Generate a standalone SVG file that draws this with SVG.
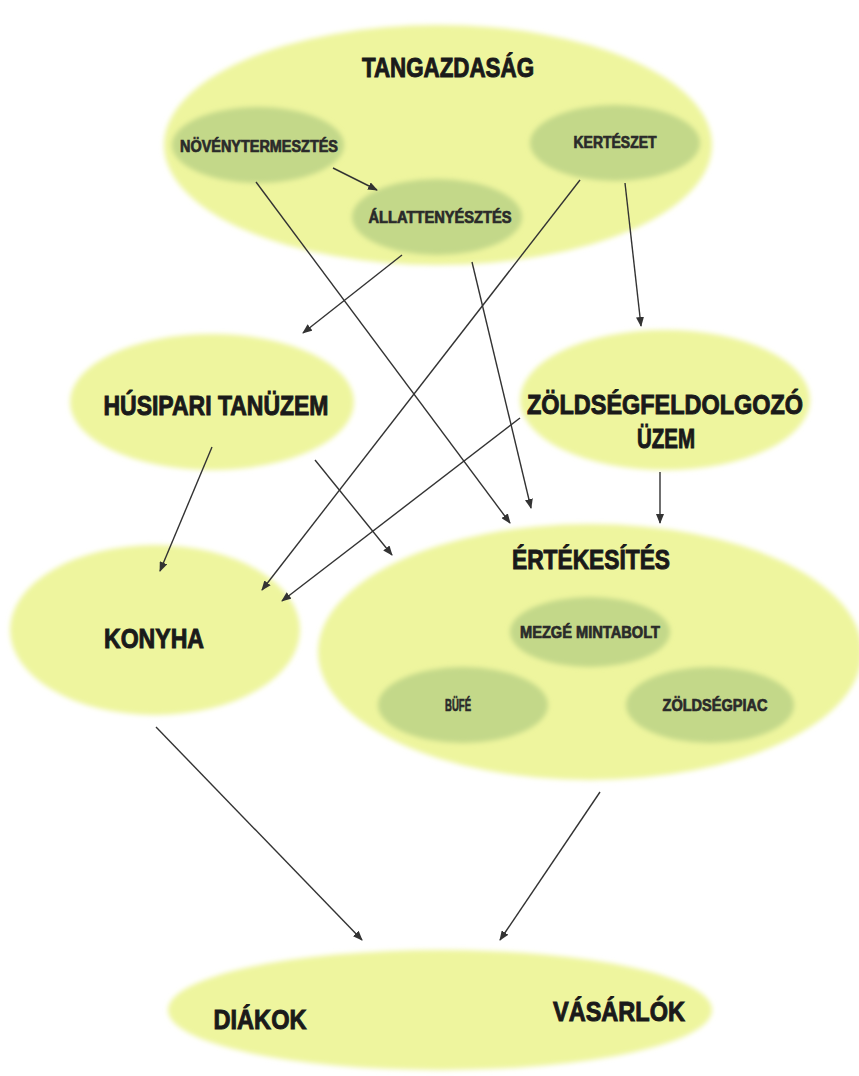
<svg xmlns="http://www.w3.org/2000/svg" width="859" height="1076" viewBox="0 0 859 1076">
<defs>
<filter id="soft" x="-10%" y="-10%" width="120%" height="120%"><feGaussianBlur stdDeviation="2.5"/></filter>
<marker id="arr" markerWidth="10" markerHeight="8" refX="9" refY="4" orient="auto" markerUnits="userSpaceOnUse"><path d="M0,0 L10,4 L0,8 Z" fill="#333"/></marker>
<style>
.outer{fill:#eef59e;filter:url(#soft)}
.inner{fill:#c3d889;filter:url(#soft)}
.big{font-family:"Liberation Sans",Arial,sans-serif;font-weight:bold;font-size:28px;fill:#1a1a1a;stroke:#1a1a1a;stroke-width:1;text-anchor:middle}
.sm{font-family:"Liberation Sans",Arial,sans-serif;font-weight:bold;font-size:16px;fill:#2a2a2a;stroke:#2a2a2a;stroke-width:0.7;text-anchor:middle}
.c{stroke:#333;stroke-width:1.4;fill:none;marker-end:url(#arr)}
</style>
</defs>
<rect width="859" height="1076" fill="#ffffff"/>
<g id="tangazdasag">
<ellipse class="outer" cx="438" cy="145" rx="274" ry="120"/>
<text class="big" x="448" y="77" font-size="25" textLength="172" lengthAdjust="spacingAndGlyphs">TANGAZDASÁG</text>
</g>
<g id="novenytermesztes">
<ellipse class="inner" cx="258" cy="145" rx="86" ry="38"/>
<text class="sm" x="259" y="152" textLength="158" lengthAdjust="spacingAndGlyphs">NÖVÉNYTERMESZTÉS</text>
</g>
<g id="kerteszet">
<ellipse class="inner" cx="615" cy="143" rx="85" ry="38"/>
<text class="sm" x="615" y="148" textLength="83" lengthAdjust="spacingAndGlyphs">KERTÉSZET</text>
</g>
<g id="allattenyesztes">
<ellipse class="inner" cx="437" cy="217" rx="85" ry="38"/>
<text class="sm" x="440" y="223" textLength="143" lengthAdjust="spacingAndGlyphs">ÁLLATTENYÉSZTÉS</text>
</g>
<g id="husipari">
<ellipse class="outer" cx="212" cy="402" rx="142" ry="68"/>
<text class="big" x="216" y="415" textLength="225" lengthAdjust="spacingAndGlyphs">HÚSIPARI TANÜZEM</text>
</g>
<g id="zoldsegfeldolgozo">
<ellipse class="outer" cx="665" cy="400" rx="145" ry="70"/>
<text class="big" x="665" y="414" textLength="276" lengthAdjust="spacingAndGlyphs">ZÖLDSÉGFELDOLGOZÓ</text>
<text class="big" x="666" y="448" textLength="58" lengthAdjust="spacingAndGlyphs">ÜZEM</text>
</g>
<g id="ertekesites">
<ellipse class="outer" cx="590" cy="652" rx="272" ry="128"/>
<text class="big" x="591" y="569" textLength="158" lengthAdjust="spacingAndGlyphs">ÉRTÉKESÍTÉS</text>
</g>
<g id="mezge">
<ellipse class="inner" cx="590" cy="632" rx="80" ry="35"/>
<text class="sm" x="590" y="638" textLength="140" lengthAdjust="spacingAndGlyphs">MEZGÉ MINTABOLT</text>
</g>
<g id="bufe">
<ellipse class="inner" cx="463" cy="705" rx="85" ry="38"/>
<text class="sm" x="458" y="711" textLength="26" lengthAdjust="spacingAndGlyphs">BÜFÉ</text>
</g>
<g id="zoldsegpiac">
<ellipse class="inner" cx="710" cy="705" rx="84" ry="38"/>
<text class="sm" x="715" y="711" textLength="105" lengthAdjust="spacingAndGlyphs">ZÖLDSÉGPIAC</text>
</g>
<g id="konyha">
<ellipse class="outer" cx="155" cy="630" rx="145" ry="85"/>
<text class="big" x="154" y="648" textLength="100" lengthAdjust="spacingAndGlyphs">KONYHA</text>
</g>
<g id="diakok-vasarlok">
<ellipse class="outer" cx="440" cy="1010" rx="272" ry="60"/>
<text class="big" x="260" y="1029" textLength="93" lengthAdjust="spacingAndGlyphs">DIÁKOK</text>
<text class="big" x="619" y="1021" textLength="132" lengthAdjust="spacingAndGlyphs">VÁSÁRLÓK</text>
</g>
<g id="connectors">
<line class="c" x1="333" y1="168" x2="377" y2="190"/>
<line class="c" x1="256" y1="182" x2="510" y2="523"/>
<line class="c" x1="402" y1="255" x2="303" y2="333"/>
<line class="c" x1="472" y1="262" x2="531" y2="508"/>
<line class="c" x1="580" y1="180" x2="262" y2="590"/>
<line class="c" x1="625" y1="183" x2="641" y2="326"/>
<line class="c" x1="520" y1="418" x2="282" y2="601"/>
<line class="c" x1="212" y1="447" x2="160" y2="571"/>
<line class="c" x1="315" y1="460" x2="392" y2="555"/>
<line class="c" x1="660" y1="472" x2="660" y2="523"/>
<line class="c" x1="156" y1="727" x2="362" y2="940"/>
<line class="c" x1="600" y1="792" x2="500" y2="940"/>
</g>
</svg>
